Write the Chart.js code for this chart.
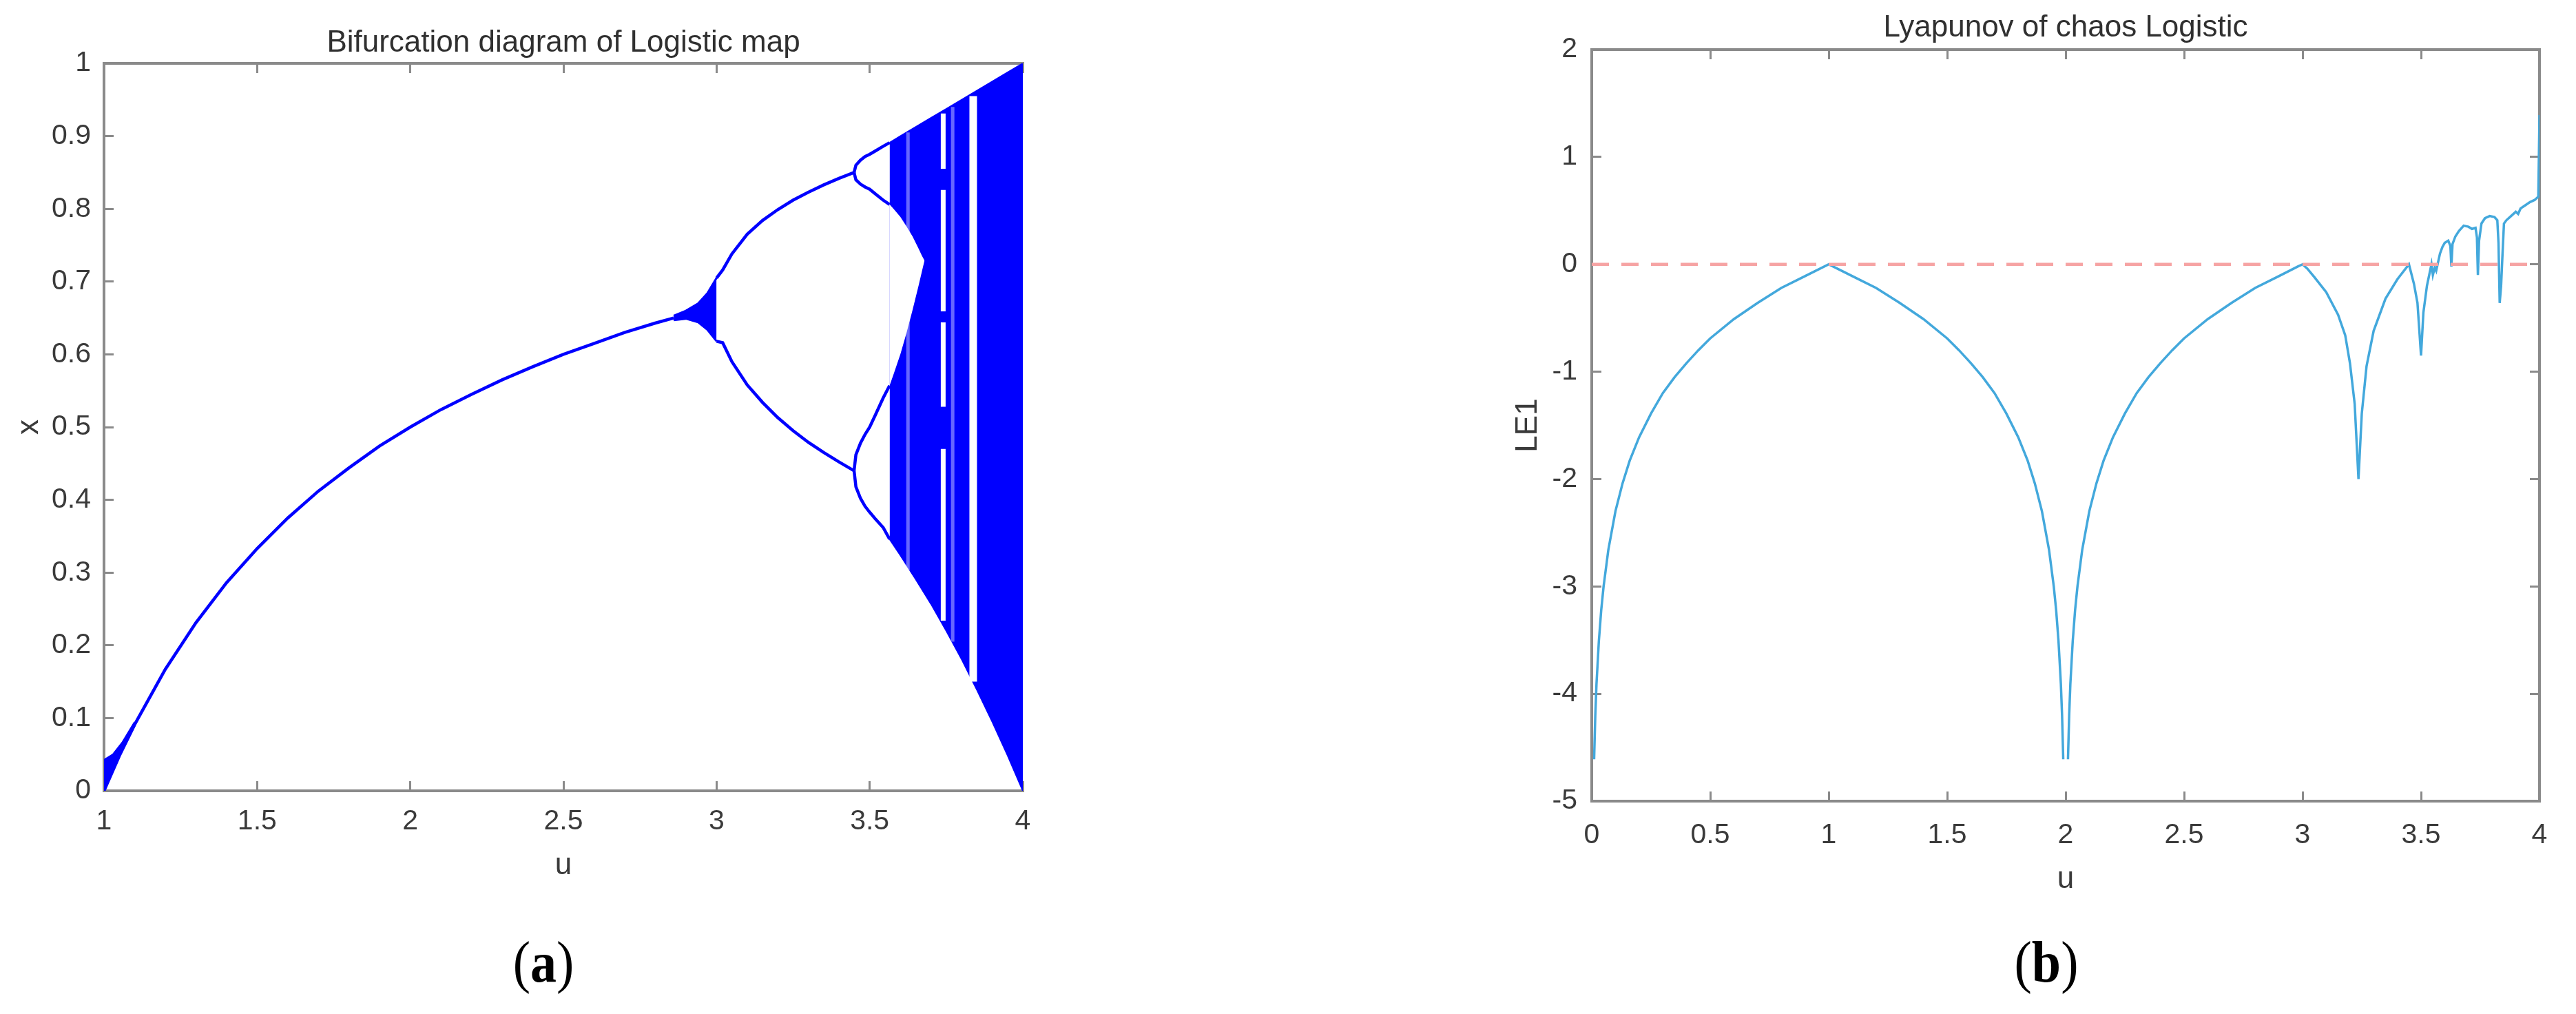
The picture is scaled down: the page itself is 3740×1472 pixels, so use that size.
<!DOCTYPE html>
<html><head><meta charset="utf-8">
<script src="https://cdn.jsdelivr.net/npm/chart.js@4.4.1/dist/chart.umd.min.js"></script>
<style>
html,body{margin:0;padding:0;background:#fff;}
body{width:3740px;height:1472px;position:relative;overflow:hidden;}
canvas{position:absolute;top:0;}
#cA{left:0;} #cB{left:2150px;}
.cap{position:absolute;top:1396px;font-family:'Liberation Serif','Times New Roman',serif;font-size:76px;color:#000;line-height:1;white-space:nowrap;transform:translate(-50%,-50%) scaleY(1.12);}
</style></head><body>
<canvas id="cA" width="1540" height="1320"></canvas>
<canvas id="cB" width="1590" height="1320"></canvas>
<div class="cap" style="left:789px">(<b>a</b>)</div>
<div class="cap" style="left:2971px">(<b>b</b>)</div>
<script>
// ---------- (a) Bifurcation diagram data (u, x) ----------
const bifXTicks = [1, 1.5, 2, 2.5, 3, 3.5, 4];
const bifXTickLabels = ['1', '1.5', '2', '2.5', '3', '3.5', '4'];
const bifYTicks = [0, 0.1, 0.2, 0.3, 0.4, 0.5, 0.6, 0.7, 0.8, 0.9, 1];
const bifYTickLabels = ['0', '0.1', '0.2', '0.3', '0.4', '0.5', '0.6', '0.7', '0.8', '0.9', '1'];

const bifFixedU = [1.0, 1.05, 1.1, 1.2, 1.3, 1.4, 1.5, 1.6, 1.7, 1.8, 1.9, 2.0, 2.1, 2.2, 2.3, 2.4, 2.5, 2.6, 2.7, 2.8, 2.86];
const bifFixedX = [0.0, 0.048, 0.091, 0.167, 0.231, 0.286, 0.333, 0.375, 0.412, 0.444, 0.474, 0.5, 0.524, 0.545, 0.565, 0.583, 0.6, 0.615, 0.630, 0.643, 0.650];

const bifWedgeU = [1.0, 1.03, 1.06, 1.1];
const bifWedgeTop = [0.042, 0.050, 0.066, 0.094];
const bifWedgeBot = [0.0, 0.029, 0.057, 0.090];

const bifBlobU = [2.86, 2.9, 2.94, 2.97, 3.0];
const bifBlobTop = [0.653, 0.660, 0.670, 0.684, 0.705];
const bifBlobBot = [0.647, 0.649, 0.644, 0.634, 0.618];

const bifP2U = [3.0, 3.02, 3.05, 3.1, 3.15, 3.2, 3.25, 3.3, 3.35, 3.4, 3.449];
const bifP2Upper = [0.705, 0.716, 0.738, 0.765, 0.784, 0.799, 0.812, 0.823, 0.833, 0.842, 0.850];
const bifP2Lower = [0.618, 0.616, 0.590, 0.558, 0.534, 0.513, 0.495, 0.479, 0.465, 0.452, 0.440];

const bifP4U = [3.449, 3.455, 3.47, 3.485, 3.5, 3.52, 3.544, 3.565];
const bifP4A = [0.850, 0.860, 0.867, 0.872, 0.875, 0.880, 0.886, 0.891];
const bifP4B = [0.850, 0.840, 0.834, 0.830, 0.827, 0.820, 0.812, 0.806];
const bifP4C = [0.440, 0.462, 0.478, 0.490, 0.500, 0.518, 0.540, 0.557];
const bifP4D = [0.440, 0.418, 0.402, 0.391, 0.383, 0.373, 0.362, 0.346];

const bifChaosU = [3.565, 3.6, 3.65, 3.7, 3.75, 3.8, 3.85, 3.9, 3.95, 4.0];
const bifChaosTop = [0.891, 0.900, 0.9125, 0.925, 0.9375, 0.950, 0.9625, 0.975, 0.9875, 1.0];
const bifChaosBot = [0.346, 0.324, 0.291, 0.257, 0.220, 0.181, 0.139, 0.095, 0.049, 0.0];

const bifGapU = [3.565, 3.58, 3.6, 3.62, 3.64, 3.66, 3.67, 3.679];
const bifGapTop = [0.806, 0.799, 0.789, 0.776, 0.762, 0.745, 0.736, 0.729];
const bifGapBot = [0.557, 0.575, 0.600, 0.629, 0.661, 0.695, 0.713, 0.729];

const bifFaintWinU = [3.625, 3.771];
const bifFaintWinLow = [0.303, 0.205];
const bifFaintWinHigh = [0.905, 0.940];

const bifP5WinU = [3.740, 3.740, 3.740, 3.740];
const bifP5WinLow = [0.855, 0.659, 0.528, 0.234];
const bifP5WinHigh = [0.931, 0.826, 0.644, 0.470];

const bifP3WinU = [3.838];
const bifP3WinLow = [0.150];
const bifP3WinHigh = [0.955];

// ---------- (b) Lyapunov exponent data (u, LE1) ----------
const lyaXTicks = [0, 0.5, 1, 1.5, 2, 2.5, 3, 3.5, 4];
const lyaXTickLabels = ['0', '0.5', '1', '1.5', '2', '2.5', '3', '3.5', '4'];
const lyaYTicks = [-5, -4, -3, -2, -1, 0, 1, 2];
const lyaYTickLabels = ['-5', '-4', '-3', '-2', '-1', '0', '1', '2'];

const lyaU = [0.01, 0.015, 0.02, 0.03, 0.04, 0.05, 0.07, 0.1, 0.13, 0.16, 0.2, 0.25, 0.3, 0.35, 0.4, 0.45, 0.5, 0.6, 0.7, 0.8, 0.9, 1.0,
  1.1, 1.2, 1.3, 1.4, 1.5, 1.55, 1.6, 1.65, 1.7, 1.75, 1.8, 1.84, 1.87, 1.9, 1.93, 1.95, 1.96, 1.97, 1.98, 1.985, 1.99, 2.0,
  2.01, 2.015, 2.02, 2.03, 2.04, 2.05, 2.07, 2.1, 2.13, 2.16, 2.2, 2.25, 2.3, 2.35, 2.4, 2.45, 2.5, 2.6, 2.7, 2.8, 2.9, 2.98, 3.0,
  3.02, 3.05, 3.1, 3.15, 3.18, 3.2, 3.22, 3.236, 3.25, 3.27, 3.3, 3.35, 3.4, 3.449,
  3.47, 3.485, 3.5, 3.51, 3.525, 3.544, 3.55, 3.558, 3.564, 3.57, 3.58, 3.59, 3.6, 3.615, 3.624, 3.628, 3.633, 3.645, 3.66, 3.68,
  3.7, 3.715, 3.73, 3.736, 3.74, 3.745, 3.755, 3.77, 3.79, 3.81, 3.822, 3.827, 3.832, 3.838, 3.843, 3.85, 3.86, 3.88, 3.9, 3.91,
  3.92, 3.94, 3.96, 3.98, 3.995, 4.0];
const lyaVal = [-4.61, -4.2, -3.91, -3.51, -3.22, -3.0, -2.66, -2.3, -2.04, -1.83, -1.61, -1.39, -1.2, -1.05, -0.92, -0.8, -0.69, -0.51, -0.36, -0.22, -0.11, 0.0,
  -0.11, -0.22, -0.36, -0.51, -0.69, -0.8, -0.92, -1.05, -1.2, -1.39, -1.61, -1.83, -2.04, -2.3, -2.66, -3.0, -3.22, -3.51, -3.91, -4.2, -4.61, null,
  -4.61, -4.2, -3.91, -3.51, -3.22, -3.0, -2.66, -2.3, -2.04, -1.83, -1.61, -1.39, -1.2, -1.05, -0.92, -0.8, -0.69, -0.51, -0.36, -0.22, -0.11, -0.02, 0.0,
  -0.04, -0.12, -0.26, -0.47, -0.66, -0.92, -1.3, -2.0, -1.39, -0.95, -0.62, -0.32, -0.14, 0.0,
  -0.18, -0.36, -0.85, -0.45, -0.2, 0.0, -0.1, -0.03, -0.06, 0.0, 0.1, 0.16, 0.2, 0.22, 0.17, -0.02, 0.19, 0.26, 0.31, 0.36,
  0.35, 0.33, 0.34, 0.25, -0.1, 0.22, 0.38, 0.43, 0.45, 0.44, 0.41, 0.2, -0.36, -0.2, 0.05, 0.38, 0.41, 0.45, 0.49, 0.47,
  0.52, 0.55, 0.58, 0.6, 0.63, 1.39];

const zeroLineU = [0, 4];
const zeroLineY = [0, 0];

// ---------- helpers ----------
const FONT = "'Liberation Sans', Arial, Helvetica, sans-serif";
const AXIS_COLOR = '#8a8a8a';
const TEXT_COLOR = '#3a3a3a';
const BLUE = '#0000ff';
const NONE = 'rgba(0,0,0,0)';
Chart.defaults.font.family = FONT;

const pts = (us, vs) => us.map((u, i) => ({ x: u, y: vs[i] }));
const segs = (us, lo, hi) => {
  const d = [];
  us.forEach((u, i) => { d.push({ x: u, y: lo[i] }, { x: u, y: hi[i] }, { x: u, y: null }); });
  return d;
};
const base = { pointRadius: 0, pointHoverRadius: 0, spanGaps: false, tension: 0 };
const edge = (data, order, color, width) => Object.assign({}, base, { data, borderColor: color || NONE, borderWidth: width || 1, fill: false, order });
const filled = (data, target, color, order, border, width) => Object.assign({}, base, {
  data, borderColor: border || NONE, borderWidth: width || 1, fill: { target, above: color, below: color }, backgroundColor: color, order
});
const lineDs = (data, color, width, order, dash) => Object.assign({}, base, { data, borderColor: color, borderWidth: width, fill: false, order, borderDash: dash || [] });

function axis(opts) {
  const o = {
    type: 'linear', position: opts.position, min: opts.min, max: opts.max,
    afterBuildTicks: s => { s.ticks = opts.ticks.map(v => ({ value: v })); },
    afterFit: s => { if (opts.width !== undefined) s.width = opts.width; if (opts.height !== undefined) s.height = opts.height; },
    ticks: {
      display: !!opts.labels, autoSkip: false, maxRotation: 0, minRotation: 0,
      padding: opts.pad || 0, color: TEXT_COLOR, font: { family: FONT, size: 41 },
      callback: (v, i) => opts.labels ? opts.labels[i] : ''
    },
    grid: { display: true, drawOnChartArea: false, drawTicks: true, tickLength: -14, color: AXIS_COLOR, lineWidth: 3 },
    border: { display: true, color: AXIS_COLOR, width: 4 },
    title: { display: false }
  };
  if (opts.title) {
    o.title = { display: true, text: opts.title, color: opts.titleColor || TEXT_COLOR, font: { family: FONT, size: 44 }, padding: opts.titlePad };
  }
  return o;
}

const commonOpts = {
  responsive: false, animation: false, devicePixelRatio: 1, events: [],
  plugins: { legend: { display: false }, tooltip: { enabled: false } }
};

// ---------- chart (a) ----------
new Chart(document.getElementById('cA'), {
  type: 'line',
  data: {
    datasets: [
      filled(pts(bifChaosU, bifChaosTop), 1, BLUE, 20, BLUE, 2),   // 0
      edge(pts(bifChaosU, bifChaosBot), 19, BLUE, 2),             // 1
      filled(pts(bifGapU, bifGapTop), 3, '#ffffff', 18),          // 2
      edge(pts(bifGapU, bifGapBot), 17),                          // 3
      lineDs(segs(bifFaintWinU, bifFaintWinLow, bifFaintWinHigh), 'rgba(255,255,255,0.4)', 5, 15), // 4
      lineDs(segs(bifP5WinU, bifP5WinLow, bifP5WinHigh), '#ffffff', 7, 14),                         // 5
      lineDs(segs(bifP3WinU, bifP3WinLow, bifP3WinHigh), '#ffffff', 11, 13),                        // 6
      filled(pts(bifBlobU, bifBlobTop), 8, BLUE, 6, BLUE, 3),     // 7
      edge(pts(bifBlobU, bifBlobBot), 5, BLUE, 3),                // 8
      filled(pts(bifWedgeU, bifWedgeTop), 10, BLUE, 6, BLUE, 3),  // 9
      edge(pts(bifWedgeU, bifWedgeBot), 5, BLUE, 3),              // 10
      lineDs(pts(bifFixedU, bifFixedX), BLUE, 4.5, 2),
      lineDs(pts(bifP2U, bifP2Upper), BLUE, 4.5, 2),
      lineDs(pts(bifP2U, bifP2Lower), BLUE, 4.5, 2),
      lineDs(pts(bifP4U, bifP4A), BLUE, 4.5, 2),
      lineDs(pts(bifP4U, bifP4B), BLUE, 4.5, 2),
      lineDs(pts(bifP4U, bifP4C), BLUE, 4.5, 2),
      lineDs(pts(bifP4U, bifP4D), BLUE, 4.5, 2)
    ]
  },
  options: Object.assign({}, commonOpts, {
    layout: { padding: { left: 0, top: 0, bottom: 0, right: 55 } },
    scales: {
      x: axis({ position: 'bottom', min: 1, max: 4, ticks: bifXTicks, labels: bifXTickLabels, height: 172, pad: 34,
                title: 'u', titlePad: { top: 0, bottom: 37 } }),
      x2: axis({ position: 'top', min: 1, max: 4, ticks: bifXTicks, height: 92,
                 title: 'Bifurcation diagram of Logistic map', titleColor: '#303030', titlePad: { top: 36, bottom: 0 } }),
      y: axis({ position: 'left', min: 0, max: 1, ticks: bifYTicks, labels: bifYTickLabels, width: 151, pad: 33,
                title: 'x', titlePad: { top: 16, bottom: 0 } })
    }
  })
});

// ---------- chart (b) ----------
new Chart(document.getElementById('cB'), {
  type: 'line',
  data: {
    datasets: [
      lineDs(pts(zeroLineU, zeroLineY), '#f6a3a3', 4.5, 1, [25, 18]),
      lineDs(pts(lyaU, lyaVal), '#43a8dc', 3.5, 2)
    ]
  },
  options: Object.assign({}, commonOpts, {
    layout: { padding: { left: 0, top: 0, bottom: 0, right: 53 } },
    scales: {
      x: axis({ position: 'bottom', min: 0, max: 4, ticks: lyaXTicks, labels: lyaXTickLabels, height: 157, pad: 39,
                title: 'u', titlePad: { top: 0, bottom: 17 } }),
      x2: axis({ position: 'top', min: 0, max: 4, ticks: lyaXTicks, height: 72,
                 title: 'Lyapunov of chaos Logistic', titleColor: '#303030', titlePad: { top: 14, bottom: 0 } }),
      y: axis({ position: 'left', min: -5, max: 2, ticks: lyaYTicks, labels: lyaYTickLabels, width: 161, pad: 35,
                title: 'LE1', titlePad: { top: 42, bottom: 0 } }),
      y2: axis({ position: 'right', min: -5, max: 2, ticks: lyaYTicks, width: 0 })
    }
  })
});
</script>
</body></html>
